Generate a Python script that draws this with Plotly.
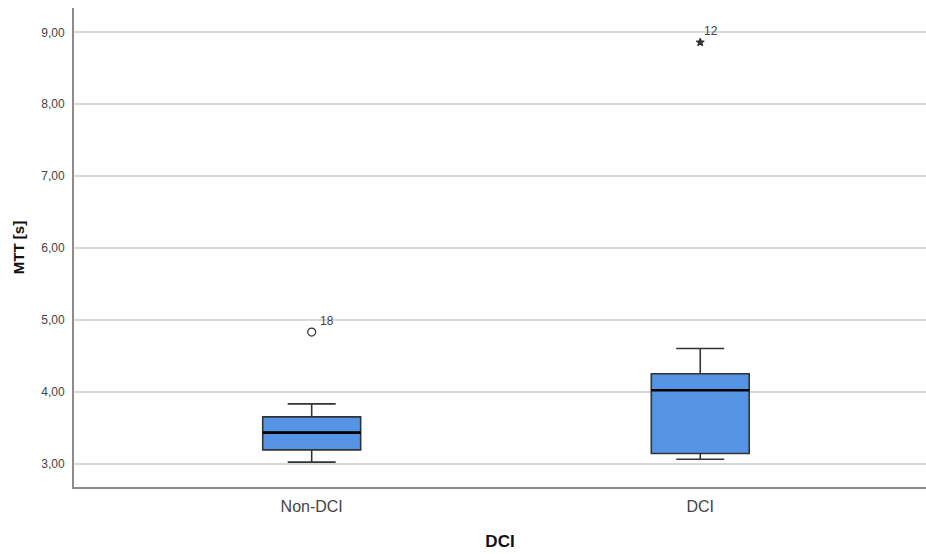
import plotly.graph_objects as go

# ---- data ----
categories = ["Non-DCI", "DCI"]
lower_whisker = [3.02, 3.06]
q1_values = [3.19, 3.14]
median_values = [3.43, 4.02]
q3_values = [3.65, 4.25]
upper_whisker = [3.83, 4.60]

outlier_category = [0, 1]           # index into categories
outlier_values = [4.83, 8.86]
outlier_labels = ["18", "12"]
outlier_symbols = ["circle-open", "star"]  # mild / extreme

y_ticks = [3, 4, 5, 6, 7, 8, 9]

# ---- styling ----
FONT = "Liberation Sans, Arial, sans-serif"
BOX_FILL = "#5594e4"
BOX_LINE = "#333333"
box_w = 0.252
positions = list(range(len(categories)))

fig = go.Figure()

for i, cat in enumerate(categories):
    fig.add_trace(go.Box(
        x=[positions[i]],
        q1=[q1_values[i]], median=[median_values[i]], q3=[q3_values[i]],
        lowerfence=[lower_whisker[i]], upperfence=[upper_whisker[i]],
        width=box_w, whiskerwidth=0.49,
        fillcolor=BOX_FILL,
        line=dict(color=BOX_LINE, width=1.6),
        boxpoints=False, hoverinfo="skip", showlegend=False,
        name=cat,
    ))
    # thicker black median line
    fig.add_trace(go.Scatter(
        x=[positions[i] - box_w / 2, positions[i] + box_w / 2],
        y=[median_values[i], median_values[i]],
        mode="lines", line=dict(color="#000000", width=2.6),
        hoverinfo="skip", showlegend=False,
    ))

for ci, v, lab, sym in zip(outlier_category, outlier_values, outlier_labels, outlier_symbols):
    size = 8 if sym == "circle-open" else 6
    fig.add_trace(go.Scatter(
        x=[positions[ci]], y=[v], mode="markers",
        marker=dict(symbol=sym, size=size, color="#333333",
                    line=dict(color="#333333", width=1.2)),
        hoverinfo="skip", showlegend=False,
    ))
    fig.add_annotation(
        x=positions[ci], y=v, text=lab, showarrow=False,
        xanchor="left", yanchor="middle",
        xshift=6 if sym == "circle-open" else 2,
        yshift=11,
        font=dict(family=FONT, size=12, color="#444444"),
    )

fig.update_layout(
    width=926, height=554,
    margin=dict(l=74, r=0, t=8, b=67),
    paper_bgcolor="white", plot_bgcolor="white",
    separators=",.",
    font=dict(family=FONT, color="#444444"),
)

fig.update_xaxes(
    range=[-0.6117, 1.581],
    tickvals=positions, ticktext=categories,
    tickfont=dict(family=FONT, size=16, color="#444444"),
    ticks="outside", ticklen=4, tickcolor="rgba(0,0,0,0)",
    showgrid=False, zeroline=False,
    showline=True, linecolor="#8c8c8c", linewidth=2,
    title=dict(text="<b>DCI</b>", standoff=21,
               font=dict(family=FONT, size=17, color="#111111")),
)

fig.update_yaxes(
    range=[2.674, 9.338],
    tickvals=y_ticks, tickformat=".2f",
    tickfont=dict(family=FONT, size=12, color="#444444"),
    ticks="outside", ticklen=5, tickcolor="rgba(0,0,0,0)",
    showgrid=True, gridcolor="#d9d9d9", gridwidth=2,
    zeroline=False,
    showline=True, linecolor="#8c8c8c", linewidth=2,
    title=dict(text="<b>MTT [s]</b>", standoff=13,
               font=dict(family=FONT, size=15, color="#111111")),
)

fig.write_html("out.html")
